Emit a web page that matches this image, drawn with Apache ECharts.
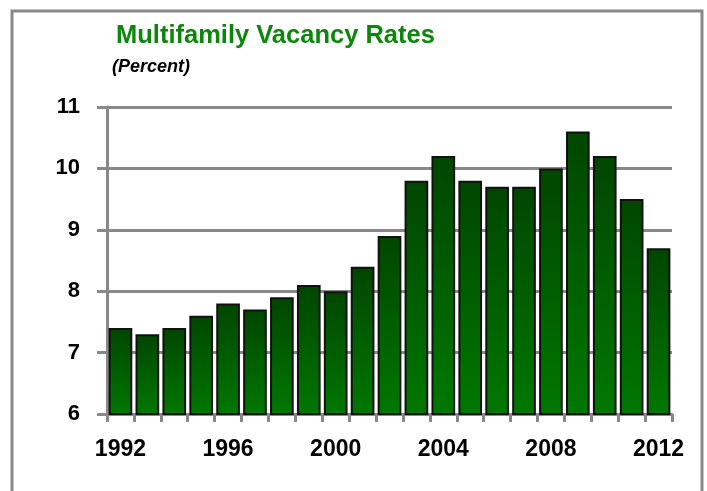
<!DOCTYPE html>
<html>
<head>
    <meta charset="utf-8" />
    <title>Multifamily Vacancy Rates</title>
    <script src="https://cdn.jsdelivr.net/npm/echarts@6/dist/echarts.min.js"></script>
    <style>
        * { margin: 0; padding: 0; }
        body { background: #fff; }
        #chart { width: 707px; height: 491px; }
    </style>
</head>
<body>
    <div id="chart"></div>
    <script>
        // data
        const years = ['1992', '1993', '1994', '1995', '1996', '1997', '1998', '1999', '2000', '2001', '2002',
            '2003', '2004', '2005', '2006', '2007', '2008', '2009', '2010', '2011', '2012'];
        const vacancy = [7.4, 7.3, 7.4, 7.6, 7.8, 7.7, 7.9, 8.1, 8.0, 8.4, 8.9,
            9.8, 10.2, 9.8, 9.7, 9.7, 10.0, 10.6, 10.2, 9.5, 8.7];

        const font = "'Liberation Sans', Arial, sans-serif";
        const gray = '#888888';

        const myChart = echarts.init(document.getElementById('chart'));

        const option = {
            animation: false,
            graphic: [
                {
                    type: 'rect',
                    shape: { x: 12, y: 11, width: 690, height: 500 },
                    style: { fill: 'none', stroke: gray, lineWidth: 3 }
                },
                {
                    type: 'text',
                    left: 116, top: 23,
                    style: { text: 'Multifamily Vacancy Rates', fill: '#0b870b', font: 'bold 25.5px ' + font }
                },
                {
                    type: 'text',
                    left: 112, top: 58,
                    style: { text: '(Percent)', fill: '#000', font: 'italic bold 18px ' + font }
                }
            ],
            grid: {
                left: 107,
                right: 35,
                top: 107,
                bottom: 77
            },
            xAxis: {
                type: 'category',
                data: years,
                axisLine: { lineStyle: { color: gray, width: 3 } },
                axisTick: { show: true, interval: 0, length: 8, lineStyle: { color: gray, width: 3 } },
                axisLabel: {
                    interval: 3,
                    margin: 24,
                    color: '#000',
                    fontFamily: font,
                    fontWeight: 'bold',
                    fontSize: 23
                }
            },
            yAxis: {
                type: 'value',
                min: 6,
                max: 11,
                interval: 1,
                axisLine: { show: true, lineStyle: { color: gray, width: 3 } },
                axisTick: { show: true, length: 10, lineStyle: { color: gray, width: 3 } },
                axisLabel: {
                    margin: 27,
                    color: '#000',
                    fontFamily: font,
                    fontWeight: 'bold',
                    fontSize: 22
                },
                splitLine: { lineStyle: { color: gray, width: 3 } }
            },
            series: [
                {
                    type: 'bar',
                    data: vacancy,
                    barCategoryGap: '12%',
                    itemStyle: {
                        borderColor: '#111',
                        borderWidth: 2,
                        color: new echarts.graphic.LinearGradient(0, 0, 0, 1, [
                            { offset: 0, color: '#004600' },
                            { offset: 1, color: '#007800' }
                        ])
                    }
                }
            ]
        };

        myChart.setOption(option);
    </script>
</body>
</html>
